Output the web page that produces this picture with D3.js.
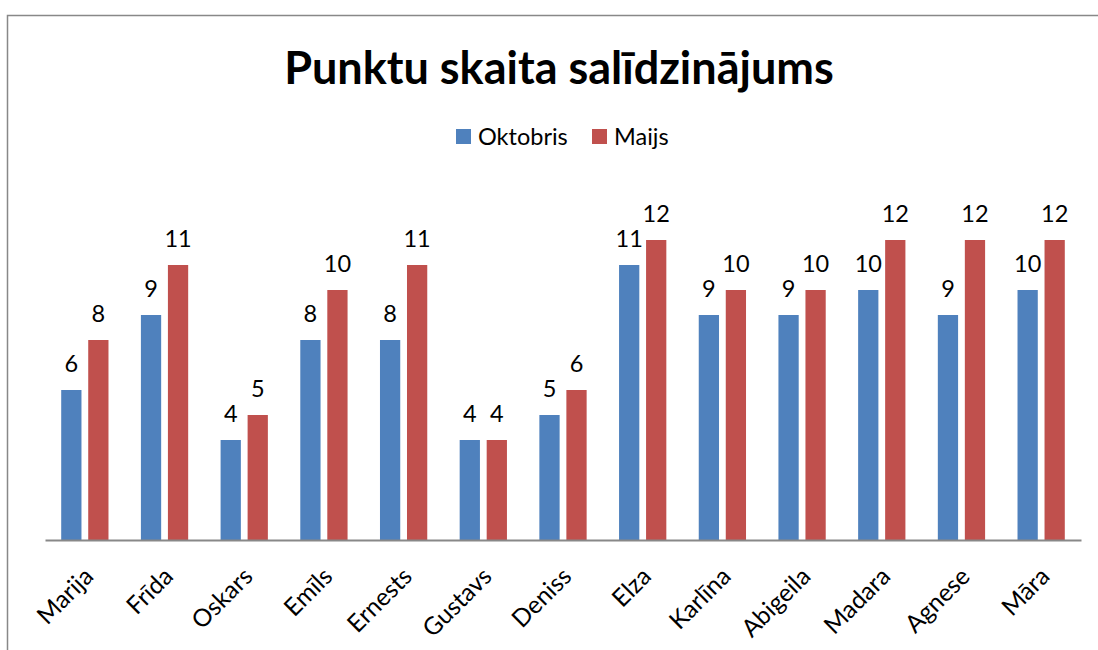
<!DOCTYPE html>
<html>
<head>
<meta charset="utf-8">
<script src="https://cdn.jsdelivr.net/npm/d3@7"></script>
<style>
  body { margin: 0; background: #fff; }
  text { font-family: Lato, "Open Sans", sans-serif; }
</style>
</head>
<body>
<div id="chart"></div>
<script>
// Data
var names = ["Marija", "Frīda", "Oskars", "Emīls", "Ernests", "Gustavs", "Deniss",
             "Elza", "Karlīna", "Abigeila", "Madara", "Agnese", "Māra"];
var oktobris = [6, 9, 4, 8, 8, 4, 5, 11, 9, 9, 10, 9, 10];
var maijs    = [8, 11, 5, 10, 11, 4, 6, 12, 10, 10, 12, 12, 12];
var seriesNames = ["Oktobris", "Maijs"];
var colors = ["#4f81bd", "#c0504d"];

var W = 1098, H = 650;
var svg = d3.select("#chart").append("svg")
    .attr("width", W)
    .attr("height", H);

// chart border
svg.append("rect")
    .attr("x", 7.5).attr("y", 15.5)
    .attr("width", W + 20).attr("height", H + 20)
    .attr("fill", "none").attr("stroke", "#888").attr("stroke-width", 1.5);

var x = d3.scaleBand().domain(names).range([45, 1081]);
var x1 = d3.scaleBand().domain(seriesNames).range([0, x.bandwidth()]).paddingInner(0.25).paddingOuter(0.6);
var y = d3.scaleLinear().domain([0, 12]).range([540, 240]);

var rows = names.map(function(n, i) {
    return { name: n, values: [oktobris[i], maijs[i]] };
});

var groups = svg.selectAll("g.cat")
    .data(rows)
    .enter().append("g")
        .attr("class", "cat")
        .attr("transform", function(d) { return "translate(" + x(d.name) + ",0)"; });

groups.selectAll("rect")
    .data(function(d) { return d.values.map(function(v, k) { return { s: seriesNames[k], v: v, k: k }; }); })
    .enter().append("rect")
        .attr("x", function(d) { return x1(d.s); })
        .attr("y", function(d) { return y(d.v); })
        .attr("width", x1.bandwidth())
        .attr("height", function(d) { return y(0) - y(d.v); })
        .attr("fill", function(d) { return colors[d.k]; });

groups.selectAll("text.val")
    .data(function(d) { return d.values.map(function(v, k) { return { s: seriesNames[k], v: v }; }); })
    .enter().append("text")
        .attr("class", "val")
        .attr("x", function(d) { return x1(d.s) + x1.bandwidth() / 2; })
        .attr("y", function(d) { return y(d.v) - 18; })
        .attr("text-anchor", "middle")
        .attr("font-size", 23.5)
        .attr("fill", "#000")
        .text(function(d) { return d.v; });

// x axis
var xAxis = svg.append("g")
    .attr("transform", "translate(0," + y(0) + ")")
    .call(d3.axisBottom(x).tickSize(0).tickPadding(0));
xAxis.select(".domain").attr("stroke", "#888").attr("stroke-width", 2);
xAxis.selectAll("text")
    .attr("font-size", 24.5)
    .attr("fill", "#000")
    .attr("text-anchor", "end")
    .attr("dy", 0)
    .attr("transform", "translate(10,38) rotate(-45)");

// title
svg.append("text")
    .attr("x", 559).attr("y", 84)
    .attr("text-anchor", "middle")
    .attr("font-size", 45)
    .attr("font-weight", "bold")
    .text("Punktu skaita salīdzinājums");

// legend
var legendX = [456, 592];
var legend = svg.selectAll("g.leg")
    .data(seriesNames)
    .enter().append("g")
        .attr("class", "leg")
        .attr("transform", function(d, i) { return "translate(" + legendX[i] + ",129)"; });
legend.append("rect")
    .attr("width", 15).attr("height", 15)
    .attr("fill", function(d, i) { return colors[i]; });
legend.append("text")
    .attr("x", 22).attr("y", 16)
    .attr("font-size", 23.5)
    .text(function(d) { return d; });
</script>
</body>
</html>
